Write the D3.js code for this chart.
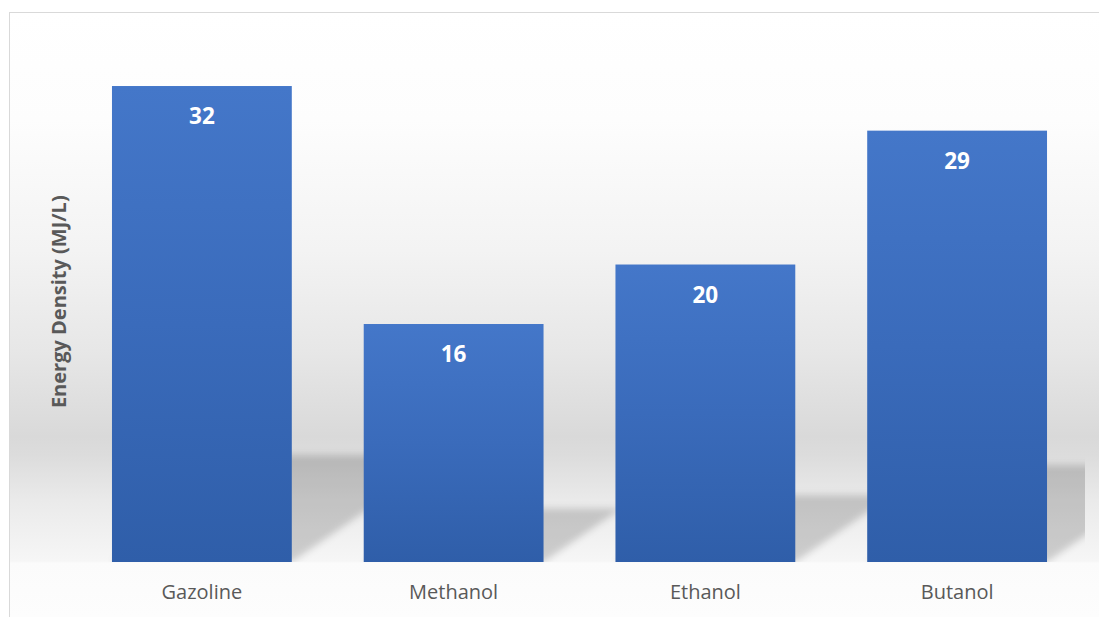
<!DOCTYPE html>
<html>
<head>
<meta charset="utf-8">
<script src="https://cdn.jsdelivr.net/npm/d3@7"></script>
<style>
  html, body { margin: 0; padding: 0; background: #ffffff; }
  svg { display: block; }
</style>
</head>
<body>
<svg id="chart" width="1099" height="617"></svg>
<script>
// Energy density of fuels (MJ per litre)
const categories = ["Gazoline", "Methanol", "Ethanol", "Butanol"];
const values = [32, 16, 20, 29];
const yAxisTitle = "Energy Density (MJ/L)";
const yDomain = [0, 35];

const W = 1099, H = 617;
const frame = { x: 9, y: 12 };
const plot = { left: 76, right: 1085, top: 41.4, bottom: 562 };

const svg = d3.select("#chart");
const defs = svg.append("defs");

// Chart-area fill: white at the top, a soft grey band low down, lighter again at the floor
const bg = defs.append("linearGradient")
  .attr("id", "bgGrad").attr("gradientUnits", "userSpaceOnUse")
  .attr("x1", 0).attr("x2", 0).attr("y1", frame.y).attr("y2", H);
const bgStops = [
  [12, "#ffffff"], [120, "#fdfdfd"], [250, "#f3f3f3"], [350, "#e7e7e7"],
  [437, "#d9d9d9"], [455, "#dcdcdc"], [500, "#eaeaea"], [561, "#f6f6f6"],
  [563, "#fbfbfb"], [617, "#fdfdfd"]
];
bgStops.forEach(([y, c]) => {
  bg.append("stop").attr("offset", (y - frame.y) / (H - frame.y)).attr("stop-color", c);
});

// Bar fill
const barGrad = defs.append("linearGradient")
  .attr("id", "barGrad").attr("x1", 0).attr("x2", 0).attr("y1", 0).attr("y2", 1);
barGrad.append("stop").attr("offset", 0).attr("stop-color", "#4477c9");
barGrad.append("stop").attr("offset", 0.5).attr("stop-color", "#3a6bbb");
barGrad.append("stop").attr("offset", 1).attr("stop-color", "#2f5ea9");

// Soft-edged shadow
defs.append("filter").attr("id", "shadowBlur")
  .attr("x", "-20%").attr("y", "-30%").attr("width", "140%").attr("height", "160%")
  .append("feGaussianBlur").attr("stdDeviation", 3.5);

defs.append("clipPath").attr("id", "plotClip")
  .append("rect")
  .attr("x", plot.left).attr("y", plot.top)
  .attr("width", plot.right - plot.left).attr("height", plot.bottom - plot.top);

// Chart area
svg.append("rect")
  .attr("x", frame.x + 0.5).attr("y", frame.y + 0.5)
  .attr("width", W).attr("height", H)
  .attr("fill", "url(#bgGrad)")
  .attr("stroke", "#d9d9d9").attr("stroke-width", 1);

const x = d3.scaleBand()
  .domain(categories)
  .range([plot.left, plot.right - 2])
  .paddingInner(0.2857)
  .paddingOuter(0.1429);

const y = d3.scaleLinear().domain(yDomain).range([plot.bottom, plot.top]);

const data = categories.map((c, i) => ({ category: c, value: values[i] }));

// Perspective shadows cast up and to the right of each bar
const shadowScale = 0.225, shadowSkew = 1.45;
const shadowLayer = svg.append("g").attr("clip-path", "url(#plotClip)")
  .append("g").attr("filter", "url(#shadowBlur)");
shadowLayer.selectAll("path")
  .data(data)
  .join("path")
  .attr("d", d => {
    const x0 = x(d.category), x1 = x0 + x.bandwidth();
    const base = y(0);
    const h = (base - y(d.value)) * shadowScale;
    const dx = h * shadowSkew;
    return d3.line()([[x0, base], [x1, base], [x1 + dx, base - h], [x0 + dx, base - h]]) + "Z";
  })
  .attr("fill", "#000")
  .attr("fill-opacity", 0.17);

// Bars
svg.append("g").selectAll("rect")
  .data(data)
  .join("rect")
  .attr("x", d => x(d.category))
  .attr("y", d => y(d.value))
  .attr("width", x.bandwidth())
  .attr("height", d => y(0) - y(d.value))
  .attr("fill", "url(#barGrad)");

// Value labels inside the top of each bar
svg.append("g").selectAll("text")
  .data(data)
  .join("text")
  .attr("x", d => x(d.category) + x.bandwidth() / 2)
  .attr("y", d => y(d.value) + 38)
  .attr("text-anchor", "middle")
  .attr("font-family", "'Open Sans', sans-serif")
  .attr("font-weight", 700)
  .attr("font-size", 22.5)
  .attr("fill", "#ffffff")
  .text(d => d.value);

// Category axis (labels only)
const xAxis = svg.append("g")
  .attr("transform", `translate(0,${plot.bottom})`)
  .call(d3.axisBottom(x).tickSize(0).tickPadding(0));
xAxis.select(".domain").remove();
xAxis.selectAll("text")
  .attr("dy", null)
  .attr("y", 37)
  .attr("font-family", "'Open Sans', sans-serif")
  .attr("font-size", 20)
  .attr("fill", "#595959");

// Value axis title
svg.append("text")
  .attr("transform", `translate(66,${(plot.top + plot.bottom) / 2}) rotate(-90)`)
  .attr("text-anchor", "middle")
  .attr("font-family", "'Open Sans', sans-serif")
  .attr("font-weight", 700)
  .attr("font-size", 20)
  .attr("fill", "#595959")
  .text(yAxisTitle);
</script>
</body>
</html>
